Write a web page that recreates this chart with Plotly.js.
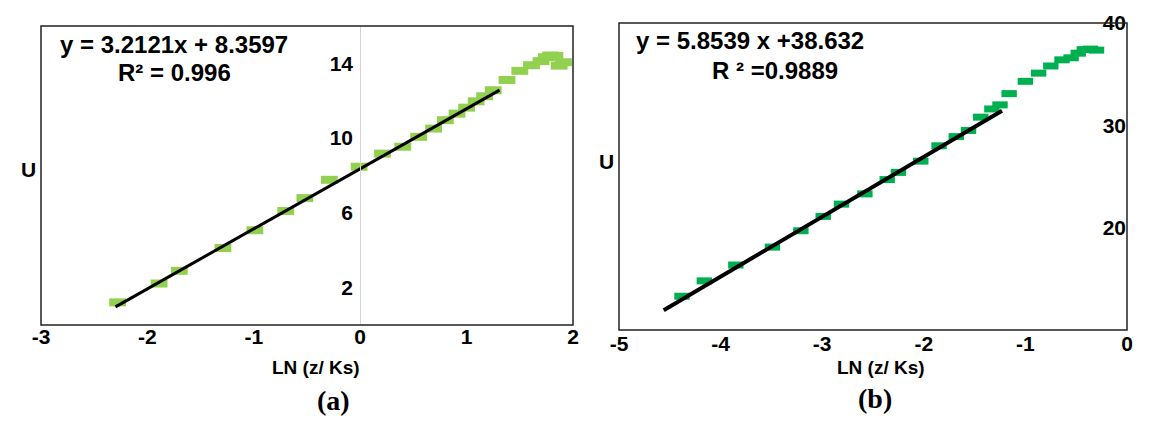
<!DOCTYPE html>
<html>
<head>
<meta charset="utf-8">
<script src="https://cdn.plot.ly/plotly-3.0.1.min.js"></script>
<style>
  html, body { margin: 0; padding: 0; background: #fff; }
  #plot { width: 1158px; height: 426px; }
</style>
</head>
<body>
<div id="plot"></div>
<script>
// (a) measured points
let xA = [-2.28, -1.89, -1.70, -1.29, -0.99, -0.70, -0.52, -0.29, -0.01, 0.21, 0.40, 0.55, 0.69, 0.80, 0.91, 1.00, 1.09, 1.17, 1.25, 1.38, 1.50, 1.61, 1.70, 1.75, 1.79, 1.83, 1.87, 1.91]
let yA = [1.21, 2.22, 2.90, 4.12, 5.07, 6.10, 6.79, 7.77, 8.47, 9.17, 9.54, 10.07, 10.51, 10.96, 11.31, 11.63, 11.97, 12.24, 12.56, 13.11, 13.60, 13.90, 14.12, 14.33, 14.42, 14.40, 13.88, 14.06]
// (a) trend line
let slopeA = 3.2121
let interceptA = 8.3597
let fitXA = [-2.30, 1.31]
// (a) ticks
let xTicksA = [-3, -2, -1, 0, 1, 2]
let xLabelsA = ["-3", "-2", "-1", "0", "1", "2"]
let yTicksA = [2, 6, 10, 14]

// (b) measured points
let xB = [-4.38, -4.16, -3.85, -3.49, -3.21, -2.99, -2.81, -2.58, -2.36, -2.25, -2.03, -1.85, -1.68, -1.56, -1.44, -1.33, -1.25, -1.16, -1.00, -0.87, -0.75, -0.64, -0.55, -0.48, -0.42, -0.36, -0.30]
let yB = [13.3, 14.8, 16.35, 18.1, 19.7, 21.1, 22.3, 23.3, 24.7, 25.4, 26.5, 28.0, 28.9, 29.5, 30.8, 31.6, 32.0, 33.1, 34.3, 35.1, 35.8, 36.4, 36.6, 37.05, 37.4, 37.45, 37.35]
// (b) trend line
let slopeB = 5.8539
let interceptB = 38.632
let fitXB = [-4.56, -1.23]
// (b) ticks
let xTicksB = [-5, -4, -3, -2, -1, 0]
let xLabelsB = ["-5", "-4", "-3", "-2", "-1", "0"]
let yTicksB = [20, 30, 40]

let W = 1158, H = 426
// plot boxes in pixels
let boxA = {l: 41, r: 573, t: 26, b: 325}
let boxB = {l: 619, r: 1127, t: 23, b: 330}
let dom = function (box) {
    return {
        x: [box.l / W, box.r / W],
        y: [(H - box.b) / H, (H - box.t) / H]
    }
}
let dA = dom(boxA), dB = dom(boxB)

let rangeXA = [-3, 2]
// y axis of (a) crosses at x = 0
let crossA = dA.x[0] + (0 - rangeXA[0]) / (rangeXA[1] - rangeXA[0]) * (dA.x[1] - dA.x[0])

let fitYA = fitXA.map(x => slopeA * x + interceptA)
let fitYB = fitXB.map(x => slopeB * x + interceptB)

let sans = "Liberation Sans, Arial, sans-serif"
let tickFont = {family: sans, size: 21, color: "#000", weight: "bold"}
let titleFont = {family: sans, size: 19, color: "#000", weight: "bold"}
let textFont = {family: sans, size: 24, color: "#000", weight: "bold"}
let capFont = {family: "Liberation Serif, Times New Roman, serif", size: 28, color: "#000", weight: "bold"}

let traceA = {
    x: xA, y: yA, xaxis: "x", yaxis: "y",
    mode: "markers", type: "scatter",
    marker: {symbol: "line-ew", size: 12, color: "#92D050", line: {color: "#92D050", width: 8}}
}
let fitA = {
    x: fitXA, y: fitYA, xaxis: "x", yaxis: "y",
    mode: "lines", type: "scatter",
    line: {color: "#000", width: 3}
}
let traceB = {
    x: xB, y: yB, xaxis: "x2", yaxis: "y2",
    mode: "markers", type: "scatter",
    marker: {symbol: "line-ew", size: 11, color: "#00B050", line: {color: "#00B050", width: 7}}
}
let fitB = {
    x: fitXB, y: fitYB, xaxis: "x2", yaxis: "y2",
    mode: "lines", type: "scatter",
    line: {color: "#000", width: 4}
}

let layout = {
    width: W, height: H,
    margin: {l: 0, r: 0, t: 0, b: 0},
    paper_bgcolor: "#fff", plot_bgcolor: "#fff",
    showlegend: false,
    xaxis: {
        domain: dA.x, anchor: "y", range: rangeXA,
        tickvals: xTicksA, ticktext: xLabelsA,
        showgrid: false, zeroline: false, showline: false, ticks: "",
        tickfont: tickFont, ticklabelstandoff: -3
    },
    yaxis: {
        domain: dA.y, anchor: "free", position: crossA, range: [0, 16],
        tickvals: yTicksA,
        showgrid: false, zeroline: false, showline: true, linecolor: "#d4d4d4", linewidth: 1,
        ticks: "", tickfont: tickFont, ticklabelstandoff: 3
    },
    xaxis2: {
        domain: dB.x, anchor: "y2", range: [-5, 0],
        tickvals: xTicksB, ticktext: xLabelsB,
        showgrid: false, zeroline: false, showline: false, ticks: "",
        tickfont: tickFont, ticklabelstandoff: -1
    },
    yaxis2: {
        domain: dB.y, anchor: "free", position: dB.x[1], side: "left", range: [10, 40],
        tickvals: yTicksB,
        showgrid: false, zeroline: false, showline: false,
        ticks: "", tickfont: tickFont, ticklabelstandoff: 1
    },
    shapes: [
        {type: "rect", xref: "x domain", yref: "y domain", x0: 0, x1: 1, y0: 0, y1: 1,
         line: {color: "#222", width: 1.5}},
        {type: "rect", xref: "x2 domain", yref: "y2 domain", x0: 0, x1: 1, y0: 0, y1: 1,
         line: {color: "#222", width: 1.5}}
    ],
    annotations: [
        {text: "y = 3.2121x + 8.3597", xref: "paper", yref: "paper", x: 174 / W, y: 1 - 45 / H,
         showarrow: false, font: textFont, xanchor: "center", yanchor: "middle"},
        {text: "R² = 0.996", xref: "paper", yref: "paper", x: 174 / W, y: 1 - 72 / H,
         showarrow: false, font: textFont, xanchor: "center", yanchor: "middle"},
        {text: "y = 5.8539 x +38.632", xref: "paper", yref: "paper", x: 750 / W, y: 1 - 41 / H,
         showarrow: false, font: textFont, xanchor: "center", yanchor: "middle"},
        {text: "R ² =0.9889", xref: "paper", yref: "paper", x: 775 / W, y: 1 - 70 / H,
         showarrow: false, font: textFont, xanchor: "center", yanchor: "middle"},
        {text: "U", xref: "paper", yref: "paper", x: 28 / W, y: 1 - 169 / H,
         showarrow: false, font: tickFont, xanchor: "center", yanchor: "middle"},
        {text: "U", xref: "paper", yref: "paper", x: 606 / W, y: 1 - 162 / H,
         showarrow: false, font: tickFont, xanchor: "center", yanchor: "middle"},
        {text: "LN (z/ Ks)", xref: "paper", yref: "paper", x: 316 / W, y: 1 - 367 / H,
         showarrow: false, font: titleFont, xanchor: "center", yanchor: "middle"},
        {text: "LN (z/ Ks)", xref: "paper", yref: "paper", x: 881 / W, y: 1 - 367 / H,
         showarrow: false, font: titleFont, xanchor: "center", yanchor: "middle"},
        {text: "(a)", xref: "paper", yref: "paper", x: 333 / W, y: 1 - 400 / H,
         showarrow: false, font: capFont, xanchor: "center", yanchor: "middle"},
        {text: "(b)", xref: "paper", yref: "paper", x: 875 / W, y: 1 - 398 / H,
         showarrow: false, font: capFont, xanchor: "center", yanchor: "middle"}
    ]
}

Plotly.newPlot("plot", [traceA, fitA, traceB, fitB], layout, {displayModeBar: false, staticPlot: true})
</script>
</body>
</html>
